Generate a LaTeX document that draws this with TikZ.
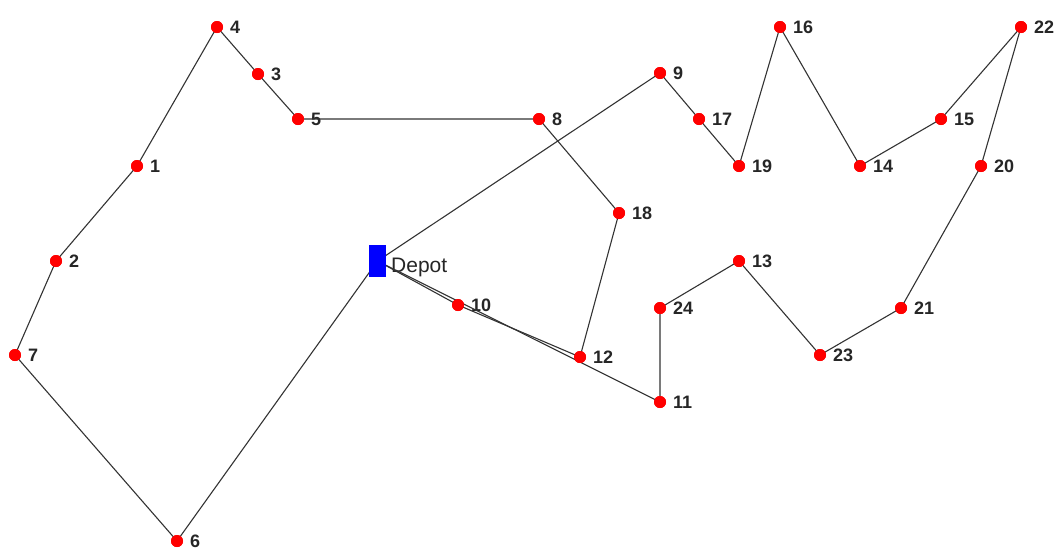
\documentclass[tikz,border=0pt]{standalone}
\usepackage{fontspec}
\setmainfont{Liberation Sans}
\begin{document}
\begin{tikzpicture}[x=1pt,y=-1pt,
  pt/.style={circle,fill=red,inner sep=0pt,minimum size=12pt},
  lab/.style={anchor=west,inner sep=0pt,font=\fontsize{18}{18}\selectfont\bfseries,text=black!85},
  depot/.style={fill=blue,minimum width=17pt,minimum height=32pt,inner sep=0pt},
  route/.style={draw=black!80,line width=1.1pt}]
\useasboundingbox (0,0) rectangle (1056,550);
\node[depot] (D) at (377.5,261) {};
\node[anchor=west,inner sep=0pt,font=\fontsize{21}{21}\selectfont,text=black!85] (Dl) at (391,267) {Depot};
\foreach \n/\x/\y in {1/137/166,2/56/261,3/258/74,4/217/27,5/298/119,6/177/541,7/15/355,8/539/119,9/660/73,10/458/305,11/660/402,12/580/357,13/739/261,14/860/166,15/941/119,16/780/27,17/699/119,18/619/213,19/739/166,20/981/166,21/901/308,22/1021/27,23/820/355,24/660/308}{
  \node[pt] (n\n) at (\x,\y) {};
  \node[lab] (l\n) at (\x+13,\y) {\n};
}
\draw[route] (D.center) -- (n6.center) -- (n7.center) -- (n2.center) -- (n1.center) -- (n4.center) -- (n3.center) -- (n5.center) -- (n8.center) -- (n18.center) -- (n12.center) -- (n10.center) -- (D.center);
\draw[route] (D.center) -- (n9.center) -- (n17.center) -- (n19.center) -- (n16.center) -- (n14.center) -- (n15.center) -- (n22.center) -- (n20.center) -- (n21.center) -- (n23.center) -- (n13.center) -- (n24.center) -- (n11.center) -- (D.center);
\foreach \n in {1,...,24}{\fill[red] (n\n) circle (6pt);}
\node[depot] at (377.5,261) {};
\end{tikzpicture}
\end{document}
